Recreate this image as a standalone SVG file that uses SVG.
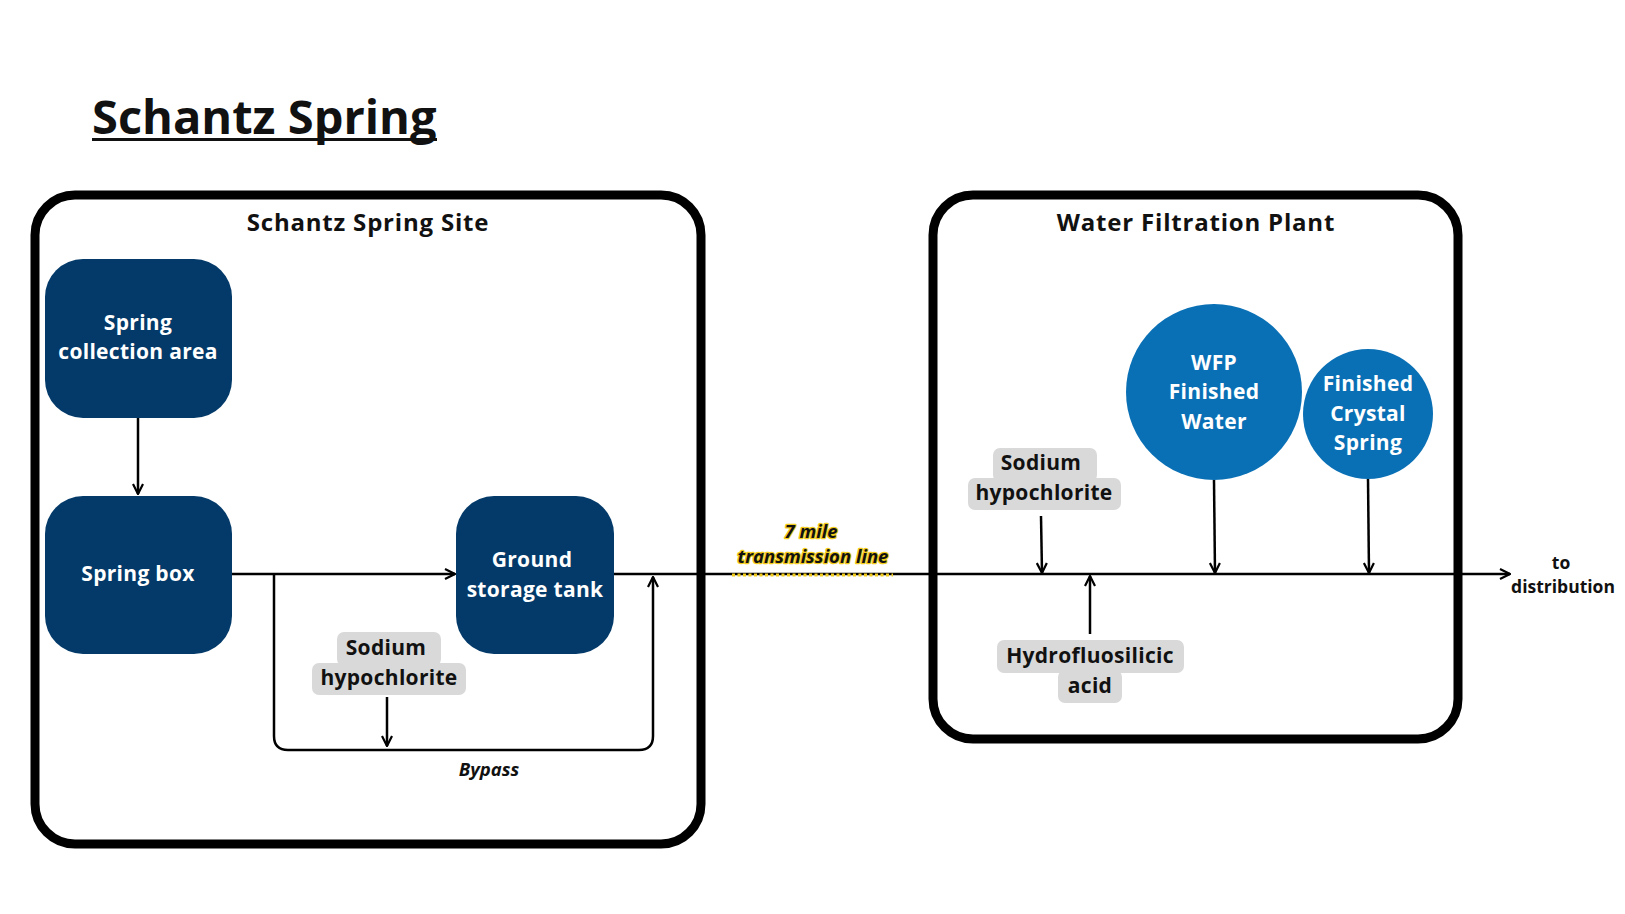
<svg xmlns="http://www.w3.org/2000/svg" width="1625" height="914" viewBox="0 0 1625 914">
<style>
.frame{fill:none;stroke:#000;stroke-width:9}
.proc{fill:#033a69}
.circ{fill:#0a70b5}
.chem{fill:#d9d9d9}
.wt{font-family:"Open Sans",Lato,sans-serif;font-weight:700;font-size:21px;letter-spacing:0.3px;fill:#fff;text-anchor:middle}
.bt{font-family:"Open Sans",Lato,sans-serif;font-weight:700;font-size:21px;letter-spacing:0.3px;fill:#111;text-anchor:middle}
.hdr{font-family:"Open Sans",Lato,sans-serif;font-weight:700;font-size:24px;letter-spacing:0.8px;fill:#111;text-anchor:middle}
.line{fill:none;stroke:#000;stroke-width:2.5}
.small{font-family:"Open Sans",Lato,sans-serif;font-weight:700;font-size:17.5px;fill:#111;text-anchor:middle}
.ital{font-family:"Open Sans",Lato,sans-serif;font-weight:700;font-style:italic;font-size:18.5px;fill:#111;text-anchor:middle}
.glow{paint-order:stroke;stroke:#f2cc1c;stroke-width:2.5;stroke-linejoin:round}
</style>
<defs>
<marker id="arr" viewBox="0 0 12 12" refX="11" refY="6" markerWidth="12" markerHeight="12" markerUnits="userSpaceOnUse" orient="auto">
<path d="M1,1 L11,6 L1,11" fill="none" stroke="#000" stroke-width="2.2"/>
</marker>
</defs>
<rect width="1625" height="914" fill="#fff"/>
<g id="title">
<text x="92" y="134" font-family="'Open Sans',Lato,sans-serif" font-weight="700" font-size="47" fill="#111">Schantz Spring</text>
<rect x="92" y="138" width="345" height="3" fill="#111"/>
</g>
<g id="site">
<rect class="frame" x="35" y="195" width="666" height="649" rx="40"/>
<text class="hdr" x="368" y="231">Schantz Spring Site</text>
</g>
<g id="plant">
<rect class="frame" x="933" y="195" width="525" height="544" rx="40"/>
<text class="hdr" x="1196" y="231">Water Filtration Plant</text>
</g>
<g id="connectors">
<line class="line" x1="138" y1="418" x2="138" y2="494" marker-end="url(#arr)"/>
<line class="line" x1="232" y1="574" x2="455" y2="574" marker-end="url(#arr)"/>
<line class="line" x1="614" y1="574" x2="1510" y2="574" marker-end="url(#arr)"/>
<line x1="732" y1="575" x2="893" y2="575" stroke="#f2cc1c" stroke-width="3" stroke-dasharray="3 2.5"/>
<path class="line" d="M274,574 V736 Q274,750 288,750 H639 Q653,750 653,736 V577" marker-end="url(#arr)"/>
<line class="line" x1="387" y1="697" x2="387" y2="746" marker-end="url(#arr)"/>
<line class="line" x1="1041" y1="516" x2="1042" y2="573" marker-end="url(#arr)"/>
<line class="line" x1="1090" y1="634" x2="1090" y2="576" marker-end="url(#arr)"/>
<line class="line" x1="1214" y1="480" x2="1215" y2="573" marker-end="url(#arr)"/>
<line class="line" x1="1368" y1="479" x2="1369" y2="573" marker-end="url(#arr)"/>
</g>
<g id="spring-collection">
<rect class="proc" x="45" y="259" width="187" height="159" rx="38"/>
<text class="wt" x="138" y="330">Spring</text>
<text class="wt" x="138" y="359">collection area</text>
</g>
<g id="spring-box">
<rect class="proc" x="45" y="496" width="187" height="158" rx="38"/>
<text class="wt" x="138" y="581">Spring box</text>
</g>
<g id="ground-tank">
<rect class="proc" x="456" y="496" width="158" height="158" rx="38"/>
<text class="wt" x="532" y="567">Ground</text>
<text class="wt" x="535" y="597">storage tank</text>
</g>
<g id="naocl-site">
<rect class="chem" x="337" y="632" width="104" height="34" rx="7"/>
<rect class="chem" x="312" y="663" width="154" height="32" rx="7"/>
<text class="bt" x="386" y="655">Sodium</text>
<text class="bt" x="389" y="685">hypochlorite</text>
</g>
<g id="bypass-label">
<text class="ital" x="489" y="776" font-weight="600">Bypass</text>
</g>
<g id="transmission">
<text class="ital glow" x="811" y="538">7 mile</text>
<text class="ital glow" x="813" y="563">transmission line</text>
</g>
<g id="naocl-wfp">
<rect class="chem" x="993" y="448" width="104" height="34" rx="7"/>
<rect class="chem" x="968" y="478" width="153" height="32" rx="7"/>
<text class="bt" x="1041" y="470">Sodium</text>
<text class="bt" x="1044" y="500">hypochlorite</text>
</g>
<g id="hfsa">
<rect class="chem" x="997" y="640" width="187" height="33" rx="7"/>
<rect class="chem" x="1058" y="670" width="64" height="33" rx="7"/>
<text class="bt" x="1090" y="663">Hydrofluosilicic</text>
<text class="bt" x="1090" y="693">acid</text>
</g>
<g id="wfp-water">
<circle class="circ" cx="1214" cy="392" r="88"/>
<text class="wt" x="1214" y="370">WFP</text>
<text class="wt" x="1214" y="399">Finished</text>
<text class="wt" x="1214" y="429">Water</text>
</g>
<g id="crystal-spring">
<circle class="circ" cx="1368" cy="414" r="65"/>
<text class="wt" x="1368" y="391">Finished</text>
<text class="wt" x="1368" y="421">Crystal</text>
<text class="wt" x="1368" y="450">Spring</text>
</g>
<g id="distribution">
<text class="small" x="1561" y="569">to</text>
<text class="small" x="1563" y="593">distribution</text>
</g>
</svg>
